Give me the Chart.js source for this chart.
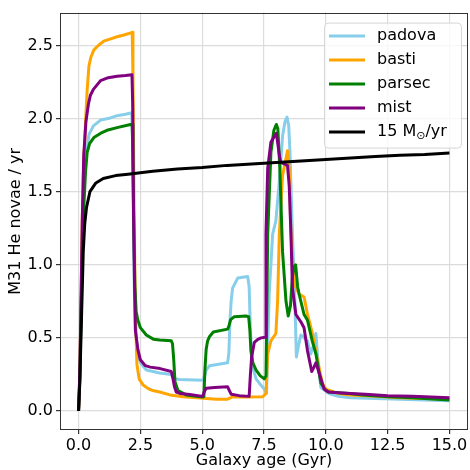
<!DOCTYPE html>
<html>
<head>
<meta charset="utf-8">
<script src="https://cdn.jsdelivr.net/npm/chart.js@4.4.0/dist/chart.umd.min.js"></script>
<style>
  body { margin: 0; background: #fff; }
  canvas { display: block; }
</style>
</head>
<body>
<canvas id="novae-chart" width="470" height="470"></canvas>
<script>
// series labels, in legend order
var seriesNames = ['padova', 'basti', 'parsec', 'mist', '15 M\u2299/yr'];
var seriesColors = ['#87ceeb', '#ffa500', '#008000', '#800080', '#000000'];

var xTicks = [0, 2.5, 5, 7.5, 10, 12.5, 15];
var yTicks = [0, 0.5, 1, 1.5, 2, 2.5];

var padovaAge = [0, 0.05, 0.1, 0.15, 0.2, 0.3, 0.42, 0.6, 0.89, 1.2, 1.56, 1.9, 2.15, 2.18, 2.22, 2.26, 2.3, 2.4, 2.5, 2.74, 3.28, 3.75, 3.82, 3.9, 4.08, 5.02, 5.1, 5.16, 5.3, 6.03, 6.08, 6.12, 6.17, 6.23, 6.44, 6.84, 6.9, 6.95, 7.04, 7.18, 7.31, 7.51, 7.6, 7.71, 7.85, 7.98, 8.12, 8.25, 8.35, 8.43, 8.5, 8.55, 8.65, 8.75, 8.81, 8.9, 8.99, 9.26, 9.33, 9.39, 9.5, 9.6, 9.66, 9.8, 10.13, 10.5, 11, 12, 13, 14, 15];
var padovaRate = [0, 0.22, 0.65, 1.1, 1.45, 1.75, 1.89, 1.95, 1.99, 2.0, 2.02, 2.03, 2.04, 1.9, 1.3, 0.8, 0.55, 0.4, 0.33, 0.28, 0.26, 0.25, 0.23, 0.22, 0.215, 0.21, 0.24, 0.28, 0.31, 0.33, 0.4, 0.6, 0.75, 0.84, 0.91, 0.92, 0.85, 0.55, 0.3, 0.22, 0.19, 0.15, 0.12, 0.8, 1.21, 1.3, 1.57, 1.88, 1.98, 2.01, 1.95, 1.77, 1.21, 0.75, 0.37, 0.45, 0.52, 0.48, 0.43, 0.39, 0.45, 0.53, 0.39, 0.16, 0.12, 0.1, 0.09, 0.085, 0.08, 0.075, 0.07];

var bastiAge = [0, 0.05, 0.1, 0.15, 0.2, 0.28, 0.35, 0.42, 0.5, 0.62, 0.8, 1.02, 1.3, 1.56, 1.8, 2.0, 2.17, 2.2, 2.24, 2.28, 2.32, 2.36, 2.45, 2.6, 2.8, 3.0, 3.28, 3.7, 4.22, 4.8, 5.56, 6.0, 6.23, 6.8, 7.45, 7.58, 7.65, 7.78, 7.98, 8.05, 8.12, 8.25, 8.45, 8.52, 8.59, 8.72, 8.92, 9.12, 9.26, 9.46, 9.66, 9.86, 10.0, 10.5, 11, 12, 13, 14, 15];
var bastiRate = [0, 0.25, 0.75, 1.3, 1.65, 1.97, 2.2, 2.36, 2.42, 2.47, 2.5, 2.53, 2.545, 2.56, 2.57, 2.58, 2.59, 2.3, 1.5, 0.9, 0.55, 0.32, 0.22, 0.18, 0.155, 0.14, 0.13, 0.11, 0.097, 0.09, 0.08, 0.08, 0.097, 0.095, 0.097, 0.12, 0.39, 0.48, 0.53, 0.75, 1.21, 1.61, 1.78, 1.66, 1.21, 0.87, 0.8, 0.78, 0.66, 0.53, 0.35, 0.19, 0.15, 0.12, 0.11, 0.1, 0.09, 0.085, 0.08];

var parsecAge = [0, 0.05, 0.1, 0.15, 0.2, 0.28, 0.35, 0.45, 0.62, 0.9, 1.15, 1.6, 2.1, 2.17, 2.2, 2.24, 2.28, 2.33, 2.4, 2.5, 2.74, 3.04, 3.28, 3.75, 3.8, 3.85, 3.9, 4.02, 4.35, 5.02, 5.07, 5.11, 5.16, 5.22, 5.3, 5.45, 6.03, 6.08, 6.15, 6.3, 6.77, 6.88, 6.93, 6.97, 7.05, 7.18, 7.35, 7.51, 7.58, 7.65, 7.78, 7.9, 8.0, 8.06, 8.14, 8.25, 8.39, 8.48, 8.57, 8.65, 8.72, 8.78, 8.86, 8.92, 9.12, 9.26, 9.45, 9.6, 9.8, 10.0, 10.13, 10.5, 10.94, 11.5, 12.55, 13.5, 15];
var parsecRate = [0, 0.22, 0.65, 1.05, 1.35, 1.63, 1.77, 1.83, 1.87, 1.9, 1.92, 1.94, 1.96, 1.96, 1.7, 1.2, 0.85, 0.68, 0.62, 0.57, 0.52, 0.49, 0.485, 0.48, 0.46, 0.35, 0.2, 0.14, 0.11, 0.095, 0.1, 0.28, 0.42, 0.48, 0.51, 0.54, 0.56, 0.58, 0.625, 0.645, 0.65, 0.645, 0.55, 0.41, 0.33, 0.28, 0.24, 0.22, 0.24, 1.21, 1.77, 1.92, 1.96, 1.93, 1.66, 1.09, 0.75, 0.65, 0.72, 0.92, 0.99, 1.0, 0.85, 0.8, 0.66, 0.62, 0.48, 0.39, 0.19, 0.14, 0.13, 0.125, 0.12, 0.11, 0.097, 0.09, 0.075];

var mistAge = [0, 0.05, 0.1, 0.15, 0.21, 0.3, 0.4, 0.48, 0.6, 0.89, 1.2, 1.56, 1.9, 2.16, 2.19, 2.22, 2.26, 2.3, 2.4, 2.5, 2.7, 2.9, 3.3, 3.75, 3.82, 3.88, 3.95, 4.1, 4.5, 5.02, 5.08, 5.16, 5.5, 6.03, 6.1, 6.17, 6.5, 6.9, 6.95, 7.0, 7.11, 7.25, 7.38, 7.55, 7.58, 7.65, 7.78, 8.0, 8.12, 8.18, 8.45, 8.52, 8.59, 8.65, 8.79, 8.99, 9.12, 9.26, 9.43, 9.52, 9.6, 9.73, 9.93, 10.1, 10.5, 11, 11.6, 12.5, 13.5, 15];
var mistRate = [0, 0.25, 0.75, 1.3, 1.75, 1.98, 2.1, 2.16, 2.2, 2.26, 2.28, 2.29, 2.295, 2.3, 2.1, 1.4, 0.9, 0.55, 0.42, 0.35, 0.31, 0.3, 0.29, 0.27, 0.22, 0.165, 0.13, 0.12, 0.113, 0.1, 0.13, 0.155, 0.16, 0.165, 0.14, 0.115, 0.105, 0.1, 0.25, 0.37, 0.47, 0.49, 0.5, 0.505, 1.21, 1.66, 1.84, 1.9, 1.75, 1.7, 1.68, 1.54, 1.21, 0.84, 0.66, 0.61, 0.57, 0.41, 0.27, 0.3, 0.33, 0.26, 0.15, 0.13, 0.125, 0.12, 0.115, 0.105, 0.1, 0.09];

var sfrAge = [0, 0.05, 0.12, 0.19, 0.25, 0.32, 0.46, 0.7, 1.0, 1.5, 2.0, 2.5, 3, 4, 5, 6, 7, 8, 9, 10, 11, 12, 13, 14, 15];
var sfrRate = [0, 0.19, 0.64, 1.09, 1.28, 1.39, 1.5, 1.56, 1.59, 1.61, 1.62, 1.63, 1.64, 1.655, 1.665, 1.68, 1.69, 1.7, 1.71, 1.72, 1.73, 1.74, 1.75, 1.755, 1.765];

var ages = [padovaAge, bastiAge, parsecAge, mistAge, sfrAge];
var rates = [padovaRate, bastiRate, parsecRate, mistRate, sfrRate];

function toPoints(xs, ys) {
  return xs.map(function(x, i) { return {x: x, y: ys[i]}; });
}

var datasets = seriesNames.map(function(name, i) {
  return {
    label: name,
    data: toPoints(ages[i], rates[i]),
    borderColor: seriesColors[i],
    borderWidth: 3,
    borderJoinStyle: 'round',
    pointRadius: 0,
    showLine: true,
    tension: 0,
    order: seriesNames.length - 1 - i
  };
});

var font = "'DejaVu Sans', sans-serif";

// box around the plot + legend inside the plot, matplotlib style
var frameAndLegend = {
  id: 'frameAndLegend',
  afterDraw: function(chart) {
    var ctx = chart.ctx, a = chart.chartArea;
    ctx.save();
    ctx.strokeStyle = '#333';
    ctx.lineWidth = 1;
    ctx.strokeRect(Math.round(a.left) + 0.5, Math.round(a.top) + 0.5,
                   Math.round(a.right - a.left) - 1, Math.round(a.bottom - a.top) - 1);

    var bx = a.right - 144, by = a.top + 10, bw = 137, bh = 125;
    ctx.beginPath();
    ctx.roundRect(bx + 0.5, by + 0.5, bw, bh, 4);
    ctx.fillStyle = 'rgba(255,255,255,0.8)';
    ctx.fill();
    ctx.strokeStyle = '#d6d6d6';
    ctx.stroke();

    ctx.textBaseline = 'middle';
    ctx.textAlign = 'left';
    seriesNames.forEach(function(name, i) {
      var ry = by + 13.5 + i * 24;
      ctx.beginPath();
      ctx.moveTo(bx + 5, ry);
      ctx.lineTo(bx + 41, ry);
      ctx.strokeStyle = seriesColors[i];
      ctx.lineWidth = 3;
      ctx.stroke();
      ctx.fillStyle = '#000';
      var tx = bx + 53;
      var parts = name.split('\u2299');
      ctx.font = '16px ' + font;
      ctx.fillText(parts[0], tx, ry);
      if (parts.length > 1) {
        tx += ctx.measureText(parts[0]).width;
        ctx.font = '11px ' + font;
        ctx.fillText('\u2299', tx, ry + 4);
        tx += ctx.measureText('\u2299').width;
        ctx.font = '16px ' + font;
        ctx.fillText(parts[1], tx, ry);
      }
    });
    ctx.restore();
  }
};

var ctx = document.getElementById('novae-chart').getContext('2d');
var myChart = new Chart(ctx, {
  type: 'scatter',
  data: { datasets: datasets },
  plugins: [frameAndLegend],
  options: {
    responsive: false,
    animation: false,
    layout: { padding: { top: 9, right: 2, left: 0, bottom: 0 } },
    plugins: { legend: { display: false }, tooltip: { enabled: false } },
    scales: {
      x: {
        type: 'linear',
        min: -0.75,
        max: 15.75,
        afterBuildTicks: function(s) { s.ticks = xTicks.map(function(v) { return {value: v}; }); },
        afterFit: function(s) { s.height = 40; },
        grid: { color: '#dcdcdc', lineWidth: 1.2, tickColor: '#333', tickLength: 4 },
        border: { display: false },
        ticks: {
          color: '#000', padding: 2, maxRotation: 0, autoSkip: false,
          font: { family: font, size: 16 },
          callback: function(v) { return v.toFixed(1); }
        },
        title: {
          display: true, text: 'Galaxy age (Gyr)', color: '#000',
          font: { family: font, size: 16 }, padding: { top: 0, bottom: 0 }
        }
      },
      y: {
        type: 'linear',
        min: -0.13,
        max: 2.725,
        afterBuildTicks: function(s) { s.ticks = yTicks.map(function(v) { return {value: v}; }); },
        afterFit: function(s) { s.width = 60; },
        grid: { color: '#dcdcdc', lineWidth: 1.2, tickColor: '#333', tickLength: 4 },
        border: { display: false },
        ticks: {
          color: '#000', padding: 3, autoSkip: false,
          font: { family: font, size: 16 },
          callback: function(v) { return v.toFixed(1); }
        },
        title: {
          display: true, text: 'M31 He novae / yr', color: '#000',
          font: { family: font, size: 16 }, padding: { top: 6, bottom: 0 }
        }
      }
    }
  }
});
</script>
</body>
</html>
